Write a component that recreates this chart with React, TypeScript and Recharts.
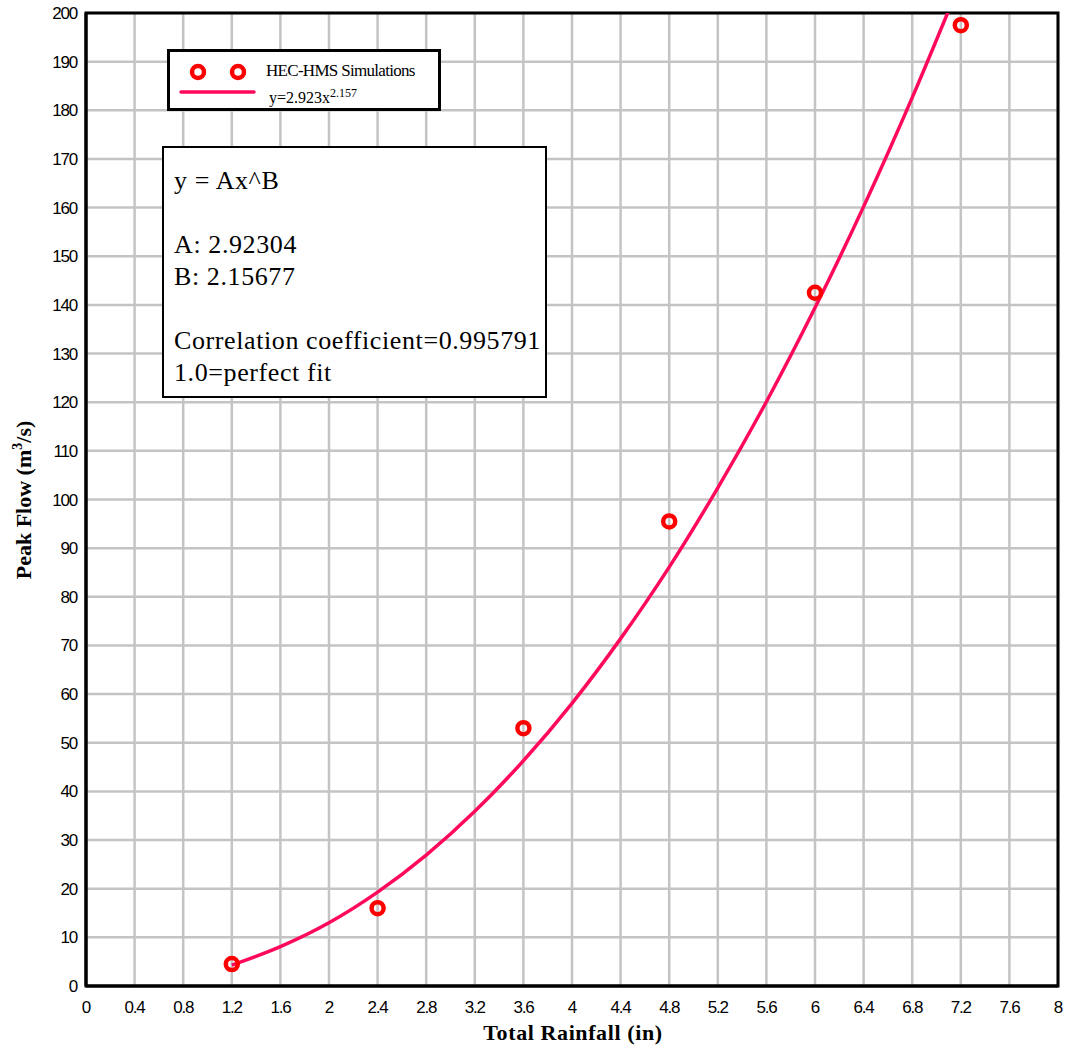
import {
  ComposedChart,
  Line,
  Scatter,
  XAxis,
  YAxis,
  CartesianGrid,
  ReferenceArea,
} from "recharts";

// observed points (HEC-HMS runs)
const rainfall = [1.2, 2.4, 3.6, 4.8, 6.0, 7.2];
const peakFlow = [4.5, 16, 53, 95.5, 142.5, 197.5];

// fitted power curve
const fitRain = [1.2, 1.6, 2.0, 2.4, 2.8, 3.2, 3.6, 4.0, 4.4, 4.8, 5.2, 5.6, 6.0, 6.4, 6.8, 7.2];
const fitFlow = [4.3, 8.1, 13, 19.3, 26.9, 35.9, 46.3, 58.1, 71.4, 86.1, 102.4, 120.1, 139.4, 160.2, 182.6, 206.6];

const xTicks = [0, 0.4, 0.8, 1.2, 1.6, 2, 2.4, 2.8, 3.2, 3.6, 4, 4.4, 4.8, 5.2, 5.6, 6, 6.4, 6.8, 7.2, 7.6, 8];
const yTicks = [0, 10, 20, 30, 40, 50, 60, 70, 80, 90, 100, 110, 120, 130, 140, 150, 160, 170, 180, 190, 200];

const points = rainfall.map((x, i) => ({ x, y: peakFlow[i] }));
const fit = fitRain.map((x, i) => ({ x, y: fitFlow[i] }));

const RED = "#ff0000";
const PINK = "#ff0a5a";
const SERIF = "'Liberation Serif', 'Times New Roman', serif";
const SANS = "'Liberation Sans', Arial, sans-serif";

const Ring = (props: any) => (
  <circle cx={props.cx} cy={props.cy} r={6} fill="none" stroke={RED} strokeWidth={4.5} />
);

const tickStyle = { fill: "#000", fontSize: 17, fontFamily: SANS, letterSpacing: -1.2 };

export default function App() {
  return (
    <div style={{ position: "absolute", left: 0, top: 0, width: 1071, height: 1048, background: "#fff" }}>
      <ComposedChart
        width={1071}
        height={1048}
        margin={{ top: 13, right: 13, bottom: 22, left: 0 }}
      >
        <CartesianGrid stroke="#c4c4c4" strokeWidth={2.5} />
        <XAxis
          type="number"
          dataKey="x"
          domain={[0, 8]}
          ticks={xTicks}
          interval={0}
          height={40}
          tickLine={false}
          axisLine={{ stroke: "#000", strokeWidth: 3 }}
          tick={tickStyle}
          tickMargin={9}
          label={{
            content: () => (
              <text
                x={573}
                y={1040}
                textAnchor="middle"
                fontFamily={SERIF}
                fontWeight="bold"
                fontSize={22}
                letterSpacing={0.6}
              >
                Total Rainfall (in)
              </text>
            ),
          }}
        />
        <YAxis
          type="number"
          dataKey="y"
          domain={[0, 200]}
          ticks={yTicks}
          interval={0}
          allowDataOverflow
          width={86}
          tickLine={false}
          axisLine={{ stroke: "#000", strokeWidth: 3 }}
          tick={tickStyle}
          tickMargin={3}
          label={{
            content: () => (
              <text
                x={31}
                y={500}
                transform="rotate(-90, 31, 500)"
                textAnchor="middle"
                fontFamily={SERIF}
                fontWeight="bold"
                fontSize={22}
              >
                Peak Flow (m<tspan dy={-9} fontSize={14}>3</tspan>
                <tspan dy={9}>/s)</tspan>
              </text>
            ),
          }}
        />
        <Line
          data={fit}
          dataKey="y"
          type="monotone"
          stroke={PINK}
          strokeWidth={3.5}
          dot={false}
          activeDot={false}
          isAnimationActive={false}
        />
        <Scatter data={points} dataKey="y" shape={Ring} isAnimationActive={false} />
        <ReferenceArea
          x1={0}
          x2={8}
          y1={0}
          y2={200}
          fill="none"
          fillOpacity={0}
          stroke="#000"
          strokeWidth={3}
          ifOverflow="visible"
        />
      </ComposedChart>

      {/* legend */}
      <div
        style={{
          position: "absolute",
          left: 167,
          top: 49,
          width: 268,
          height: 56,
          border: "3px solid #000",
          background: "#fff",
        }}
      >
        <svg width={100} height={56} style={{ position: "absolute", left: 0, top: 0 }}>
          <circle cx={28} cy={20} r={6} fill="none" stroke={RED} strokeWidth={4.5} />
          <circle cx={68} cy={20} r={6} fill="none" stroke={RED} strokeWidth={4.5} />
          <line x1={11} y1={40} x2={84} y2={40} stroke={PINK} strokeWidth={3.5} strokeLinecap="round" />
        </svg>
        <div
          style={{
            position: "absolute",
            left: 96,
            top: 9,
            fontFamily: SERIF,
            fontSize: 17,
            letterSpacing: -0.7,
            lineHeight: "20px",
            whiteSpace: "nowrap",
          }}
        >
          HEC-HMS Simulations
        </div>
        <div
          style={{
            position: "absolute",
            left: 99,
            top: 31,
            fontFamily: SERIF,
            fontSize: 16,
            lineHeight: "20px",
            whiteSpace: "nowrap",
          }}
        >
          y=2.923x<sup style={{ fontSize: 12, verticalAlign: 6 }}>2.157</sup>
        </div>
      </div>

      {/* fit summary box */}
      <div
        style={{
          position: "absolute",
          left: 162,
          top: 146,
          width: 385,
          height: 252,
          border: "2.5px solid #000",
          background: "#fff",
          fontFamily: SERIF,
          fontSize: 26,
          letterSpacing: 0.6,
          lineHeight: "32px",
          paddingTop: 17,
          paddingLeft: 10,
          boxSizing: "border-box",
          whiteSpace: "nowrap",
        }}
      >
        <div>y = Ax^B</div>
        <div>&nbsp;</div>
        <div>A: 2.92304</div>
        <div>B: 2.15677</div>
        <div>&nbsp;</div>
        <div>Correlation coefficient=0.995791</div>
        <div>1.0=perfect fit</div>
      </div>
    </div>
  );
}
